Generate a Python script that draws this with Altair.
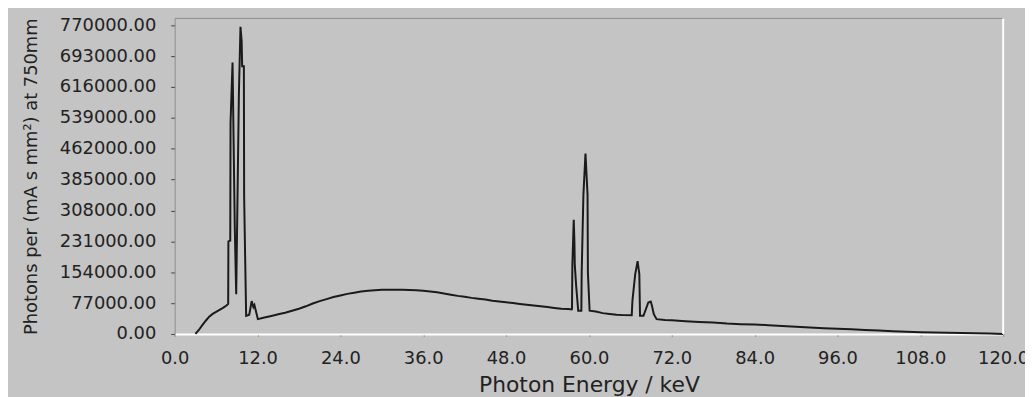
import altair as alt
import pandas as pd

# Photon energy (keV) and photon counts per (mA s mm^2) at 750 mm
energy = [
    3.0, 3.5, 4.0, 4.5, 5.0, 5.5, 6.0, 6.5, 7.0, 7.5, 7.75,
    7.78, 8.05, 8.09, 8.38, 8.70, 8.91, 9.30, 9.53, 9.70, 9.77, 10.02, 10.06, 10.35,
    10.8, 11.15, 11.4, 11.55, 12.05,
    13, 14, 15, 16, 17, 18, 19, 20, 21, 22, 23, 24, 25, 26, 27, 28, 29, 30,
    31, 32, 33, 34, 35, 36, 37, 38, 39, 40, 41, 42, 43, 44, 45, 46, 47, 48,
    49, 50, 51, 52, 53, 54, 55, 56, 57, 57.5,
    57.55, 57.6, 57.8, 57.9, 57.95, 58.15, 58.45, 58.9, 58.95, 59.2, 59.5,
    59.8, 59.85, 60.1, 61, 62, 63, 64, 65, 66.2,
    66.3, 66.7, 67.05, 67.3, 67.4, 67.9, 68.6, 68.95, 69.1, 69.4, 69.8,
    71, 72, 74, 76, 78, 80, 82, 84, 86, 88, 90, 92, 94, 96, 98, 100,
    102, 104, 106, 108, 110, 112, 114, 116, 118, 120,
]
photons = [
    0, 10000, 22000, 33000, 43000, 50000, 55000, 60000, 65000, 71000, 75000,
    231000, 233000, 527000, 677000, 268000, 99000, 599000, 766000, 730000, 668000, 668000, 342000, 45000,
    48000, 82000, 67000, 72000, 37000,
    41000, 45000, 49000, 53000, 58000, 63000, 69000, 76000, 82000, 87000, 92000, 96000, 100000, 103000,
    106000, 108000, 109000, 110000,
    110000, 110000, 110000, 109500, 109000, 108000, 106000, 104000, 101000, 98000, 95000, 93000,
    90000, 88000, 86000, 83000, 81000, 79000,
    77000, 75000, 73000, 71000, 69000, 67000, 65000, 63000, 62000, 61000,
    63000, 171000, 285000, 228000, 173000, 120000, 58000, 58000, 153000, 347000, 450000,
    347000, 153000, 58000, 56000, 52000, 50000, 48000, 47000, 46500,
    82500, 148500, 181500, 148500, 45300, 45300, 78500, 81000, 72000, 49500, 37000,
    35000, 34000, 32000, 30000, 28500, 26000, 24500, 23500, 22000, 20000, 18000, 16000, 14500,
    13000, 11500, 10000,
    8500, 7000, 5500, 4500, 3800, 3200, 2600, 2000, 1200, 0,
]

y_ticks = [0, 77000, 154000, 231000, 308000, 385000, 462000, 539000, 616000, 693000, 770000]
x_ticks = [0, 12, 24, 36, 48, 60, 72, 84, 96, 108, 120]

df = pd.DataFrame({"energy": energy, "photons": photons, "idx": list(range(len(energy)))})

BG = "#c4c4c4"
TXT = "#222222"
FONT = "DejaVu Sans"
W, H = 835, 318

line = alt.Chart(df).mark_line(color="#1a1a1a", strokeWidth=2).encode(
    x=alt.X(
        "energy:Q",
        scale=alt.Scale(domain=[0, 120], nice=False, zero=False),
        axis=alt.Axis(
            values=x_ticks, format=".1f", title="Photon Energy / keV",
            grid=False, domainColor="white", domainWidth=2,
            tickColor="#555555", tickSize=2,
            labelFont=FONT, labelFontSize=18, labelColor=TXT,
            labelBaseline="alphabetic", labelPadding=28, labelFlush=False,
            titleFont=FONT, titleFontSize=22, titleFontWeight="normal", titleColor=TXT,
            titleBaseline="alphabetic", titleX=W / 2, titleY=58, titleAlign="center",
        ),
    ),
    y=alt.Y(
        "photons:Q",
        scale=alt.Scale(domain=[0, 787000], nice=False),
        axis=alt.Axis(
            values=y_ticks, format=".2f", title="Photons per (mA s mm²) at 750mm",
            grid=False, domainColor="#8e8e8e", domainWidth=1,
            tickColor="#444444", tickSize=4,
            labelFont=FONT, labelFontSize=18, labelColor=TXT,
            labelBaseline="middle", labelPadding=15, labelFlush=False,
            titleFont=FONT, titleFontSize=18, titleFontWeight="normal", titleColor=TXT,
            titleAngle=270, titleBaseline="alphabetic", titleAlign="center",
            titleX=-139, titleY=H / 2,
        ),
    ),
    order=alt.Order("idx:Q"),
)

frame_df = pd.DataFrame({"k": [0]})
top_edge = alt.Chart(frame_df).mark_rule(color="#8e8e8e", strokeWidth=1).encode(
    x=alt.value(0), x2=alt.value(W), y=alt.value(0)
)
right_edge = alt.Chart(frame_df).mark_rule(color="white", strokeWidth=2).encode(
    x=alt.value(W), y=alt.value(0), y2=alt.value(H)
)

chart = alt.layer(line, top_edge, right_edge).properties(
    width=W, height=H,
    autosize=alt.AutoSizeParams(type="none"),
    padding={"left": 168, "top": 9, "right": 22, "bottom": 62},
    background=BG,
).configure_view(stroke=None)

chart.save("out.html", embed_options={"renderer": "svg", "actions": False})
